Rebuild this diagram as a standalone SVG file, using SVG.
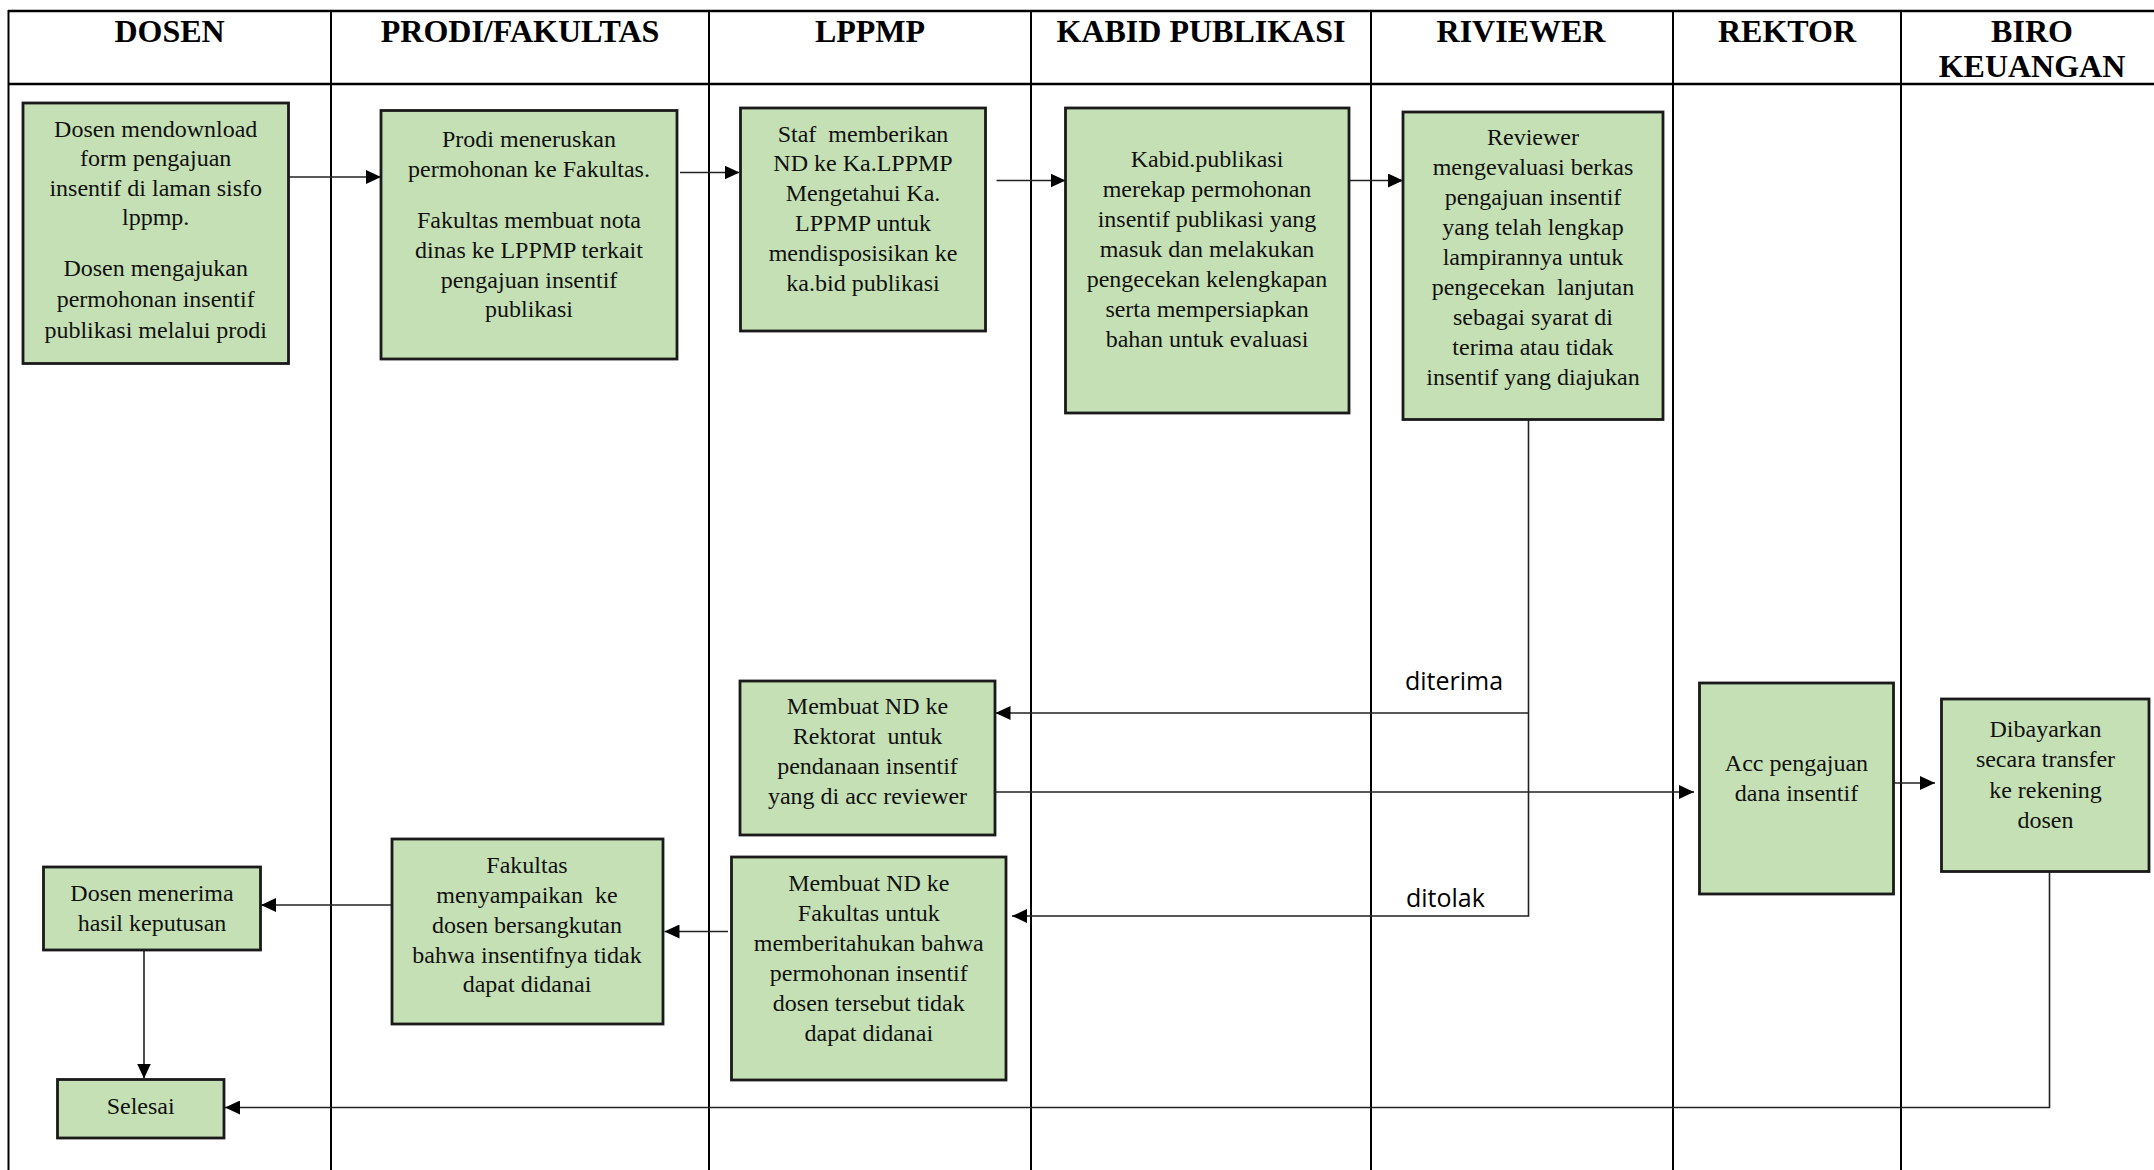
<svg xmlns="http://www.w3.org/2000/svg" width="2154" height="1170" viewBox="0 0 2154 1170">
<defs>
<style>
.grid{stroke:#000;stroke-width:2;fill:none}
.gridh{stroke:#000;stroke-width:2.7;fill:none}
.hd{font-family:"Liberation Serif","Times New Roman",serif;font-weight:bold;font-size:32px;fill:#000;text-anchor:middle}
.box{fill:#C5E0B4;stroke:#1a1a1a;stroke-width:2.8}
.tx{font-family:"Liberation Serif","Times New Roman",serif;font-size:24px;fill:#111;text-anchor:middle;white-space:pre}
.lbl{font-family:"Open Sans","Liberation Sans",sans-serif;font-size:25px;fill:#000}
.con{stroke:#222;stroke-width:1.6;fill:none}
</style>
<marker id="arr" markerUnits="userSpaceOnUse" markerWidth="15" markerHeight="14" refX="15" refY="7" orient="auto">
<path d="M0,0 L15,7 L0,14 z" fill="#000"/>
</marker>
</defs>
<rect width="2154" height="1170" fill="#fff"/>
<g id="table">
<line class="gridh" x1="8" y1="11" x2="2154" y2="11"/>
<line class="gridh" x1="8" y1="84" x2="2154" y2="84"/>
<line class="grid" x1="8.5" y1="10" x2="8.5" y2="1170"/>
<line class="grid" x1="331" y1="11" x2="331" y2="1170"/>
<line class="grid" x1="709" y1="11" x2="709" y2="1170"/>
<line class="grid" x1="1031" y1="11" x2="1031" y2="1170"/>
<line class="grid" x1="1371" y1="11" x2="1371" y2="1170"/>
<line class="grid" x1="1673" y1="11" x2="1673" y2="1170"/>
<line class="grid" x1="1901" y1="11" x2="1901" y2="1170"/>
<text class="hd" x="169.5" y="41.5">DOSEN</text>
<text class="hd" x="520" y="41.5">PRODI/FAKULTAS</text>
<text class="hd" x="870" y="41.5">LPPMP</text>
<text class="hd" x="1201" y="41.5">KABID PUBLIKASI</text>
<text class="hd" x="1521" y="41.5">RIVIEWER</text>
<text class="hd" x="1787" y="41.5">REKTOR</text>
<text class="hd" x="2032" y="41.5">BIRO</text>
<text class="hd" x="2032" y="77.3">KEUANGAN</text>
</g>
<g id="connectors">
<path class="con" d="M288.6,177 H381" marker-end="url(#arr)"/>
<path class="con" d="M680,172.5 H739.5" marker-end="url(#arr)"/>
<path class="con" d="M996.5,180.5 H1065.5" marker-end="url(#arr)"/>
<path class="con" d="M1342,180.5 H1403" marker-end="url(#arr)"/>
<path class="con" d="M1528.5,419.5 V916 H1012" marker-end="url(#arr)"/>
<path class="con" d="M1528.5,713 H995.5" marker-end="url(#arr)"/>
<path class="con" d="M995,792 H1694" marker-end="url(#arr)"/>
<path class="con" d="M1894.5,783 H1935" marker-end="url(#arr)"/>
<path class="con" d="M2049.5,871.5 V1107.5 H225" marker-end="url(#arr)"/>
<path class="con" d="M728,931.5 H664.5" marker-end="url(#arr)"/>
<path class="con" d="M392,905 H261" marker-end="url(#arr)"/>
<path class="con" d="M144,950 V1078.5" marker-end="url(#arr)"/>
<text class="lbl" x="1405" y="689.5">diterima</text>
<text class="lbl" x="1406" y="906.5">ditolak</text>
</g>
<g id="n1">
<rect class="box" x="23" y="103" width="265.5" height="260.5"/>
<text class="tx"><tspan x="155.7" y="137">Dosen mendownload</tspan><tspan x="155.7" y="166.2">form pengajuan</tspan><tspan x="155.7" y="195.5">insentif di laman sisfo</tspan><tspan x="155.7" y="224.7">lppmp.</tspan><tspan x="155.7" y="276">Dosen mengajukan</tspan><tspan x="155.7" y="307">permohonan insentif</tspan><tspan x="155.7" y="338">publikasi melalui prodi</tspan></text>
</g>
<g id="n2">
<rect class="box" x="381" y="110.5" width="296" height="248.5"/>
<text class="tx"><tspan x="529" y="146.7">Prodi meneruskan</tspan><tspan x="529" y="177">permohonan ke Fakultas.</tspan><tspan x="529" y="228">Fakultas membuat nota</tspan><tspan x="529" y="258">dinas ke LPPMP terkait</tspan><tspan x="529" y="287.5">pengajuan insentif</tspan><tspan x="529" y="317">publikasi</tspan></text>
</g>
<g id="n3">
<rect class="box" x="740.5" y="108" width="245" height="223"/>
<text class="tx"><tspan x="863" y="141.5">Staf  memberikan</tspan><tspan x="863" y="171.3">ND ke Ka.LPPMP</tspan><tspan x="863" y="201.1">Mengetahui Ka.</tspan><tspan x="863" y="230.9">LPPMP untuk</tspan><tspan x="863" y="260.7">mendisposisikan ke</tspan><tspan x="863" y="290.5">ka.bid publikasi</tspan></text>
</g>
<g id="n4">
<rect class="box" x="1065.5" y="108" width="283.5" height="305"/>
<text class="tx"><tspan x="1207" y="166.7">Kabid.publikasi</tspan><tspan x="1207" y="196.7">merekap permohonan</tspan><tspan x="1207" y="226.7">insentif publikasi yang</tspan><tspan x="1207" y="256.7">masuk dan melakukan</tspan><tspan x="1207" y="286.7">pengecekan kelengkapan</tspan><tspan x="1207" y="316.7">serta mempersiapkan</tspan><tspan x="1207" y="346.7">bahan untuk evaluasi</tspan></text>
</g>
<g id="n5">
<rect class="box" x="1403" y="112" width="260" height="307.5"/>
<text class="tx"><tspan x="1533" y="145">Reviewer</tspan><tspan x="1533" y="175">mengevaluasi berkas</tspan><tspan x="1533" y="205">pengajuan insentif</tspan><tspan x="1533" y="235">yang telah lengkap</tspan><tspan x="1533" y="265">lampirannya untuk</tspan><tspan x="1533" y="295">pengecekan  lanjutan</tspan><tspan x="1533" y="325">sebagai syarat di</tspan><tspan x="1533" y="355">terima atau tidak</tspan><tspan x="1533" y="385">insentif yang diajukan</tspan></text>
</g>
<g id="n6">
<rect class="box" x="740" y="681" width="255" height="154"/>
<text class="tx"><tspan x="867.5" y="714">Membuat ND ke</tspan><tspan x="867.5" y="744">Rektorat  untuk</tspan><tspan x="867.5" y="774">pendanaan insentif</tspan><tspan x="867.5" y="803.5">yang di acc reviewer</tspan></text>
</g>
<g id="n7">
<rect class="box" x="731.5" y="857" width="274.5" height="223"/>
<text class="tx"><tspan x="868.8" y="891">Membuat ND ke</tspan><tspan x="868.8" y="921">Fakultas untuk</tspan><tspan x="868.8" y="951">memberitahukan bahwa</tspan><tspan x="868.8" y="981">permohonan insentif</tspan><tspan x="868.8" y="1011">dosen tersebut tidak</tspan><tspan x="868.8" y="1041">dapat didanai</tspan></text>
</g>
<g id="n8">
<rect class="box" x="392" y="839" width="271" height="185"/>
<text class="tx"><tspan x="527" y="873">Fakultas</tspan><tspan x="527" y="903">menyampaikan  ke</tspan><tspan x="527" y="933">dosen bersangkutan</tspan><tspan x="527" y="962.5">bahwa insentifnya tidak</tspan><tspan x="527" y="992">dapat didanai</tspan></text>
</g>
<g id="n9">
<rect class="box" x="43.5" y="867" width="217" height="83"/>
<text class="tx"><tspan x="152" y="901">Dosen menerima</tspan><tspan x="152" y="931">hasil keputusan</tspan></text>
</g>
<g id="n10">
<rect class="box" x="57.5" y="1079.5" width="166.5" height="58.5"/>
<text class="tx"><tspan x="140.7" y="1114">Selesai</tspan></text>
</g>
<g id="n11">
<rect class="box" x="1699.5" y="683" width="194" height="211"/>
<text class="tx"><tspan x="1796.5" y="771">Acc pengajuan</tspan><tspan x="1796.5" y="801">dana insentif</tspan></text>
</g>
<g id="n12">
<rect class="box" x="1941.5" y="699" width="207.5" height="172.5"/>
<text class="tx"><tspan x="2045.5" y="737">Dibayarkan</tspan><tspan x="2045.5" y="767.3">secara transfer</tspan><tspan x="2045.5" y="797.6">ke rekening</tspan><tspan x="2045.5" y="828">dosen</tspan></text>
</g>
</svg>
